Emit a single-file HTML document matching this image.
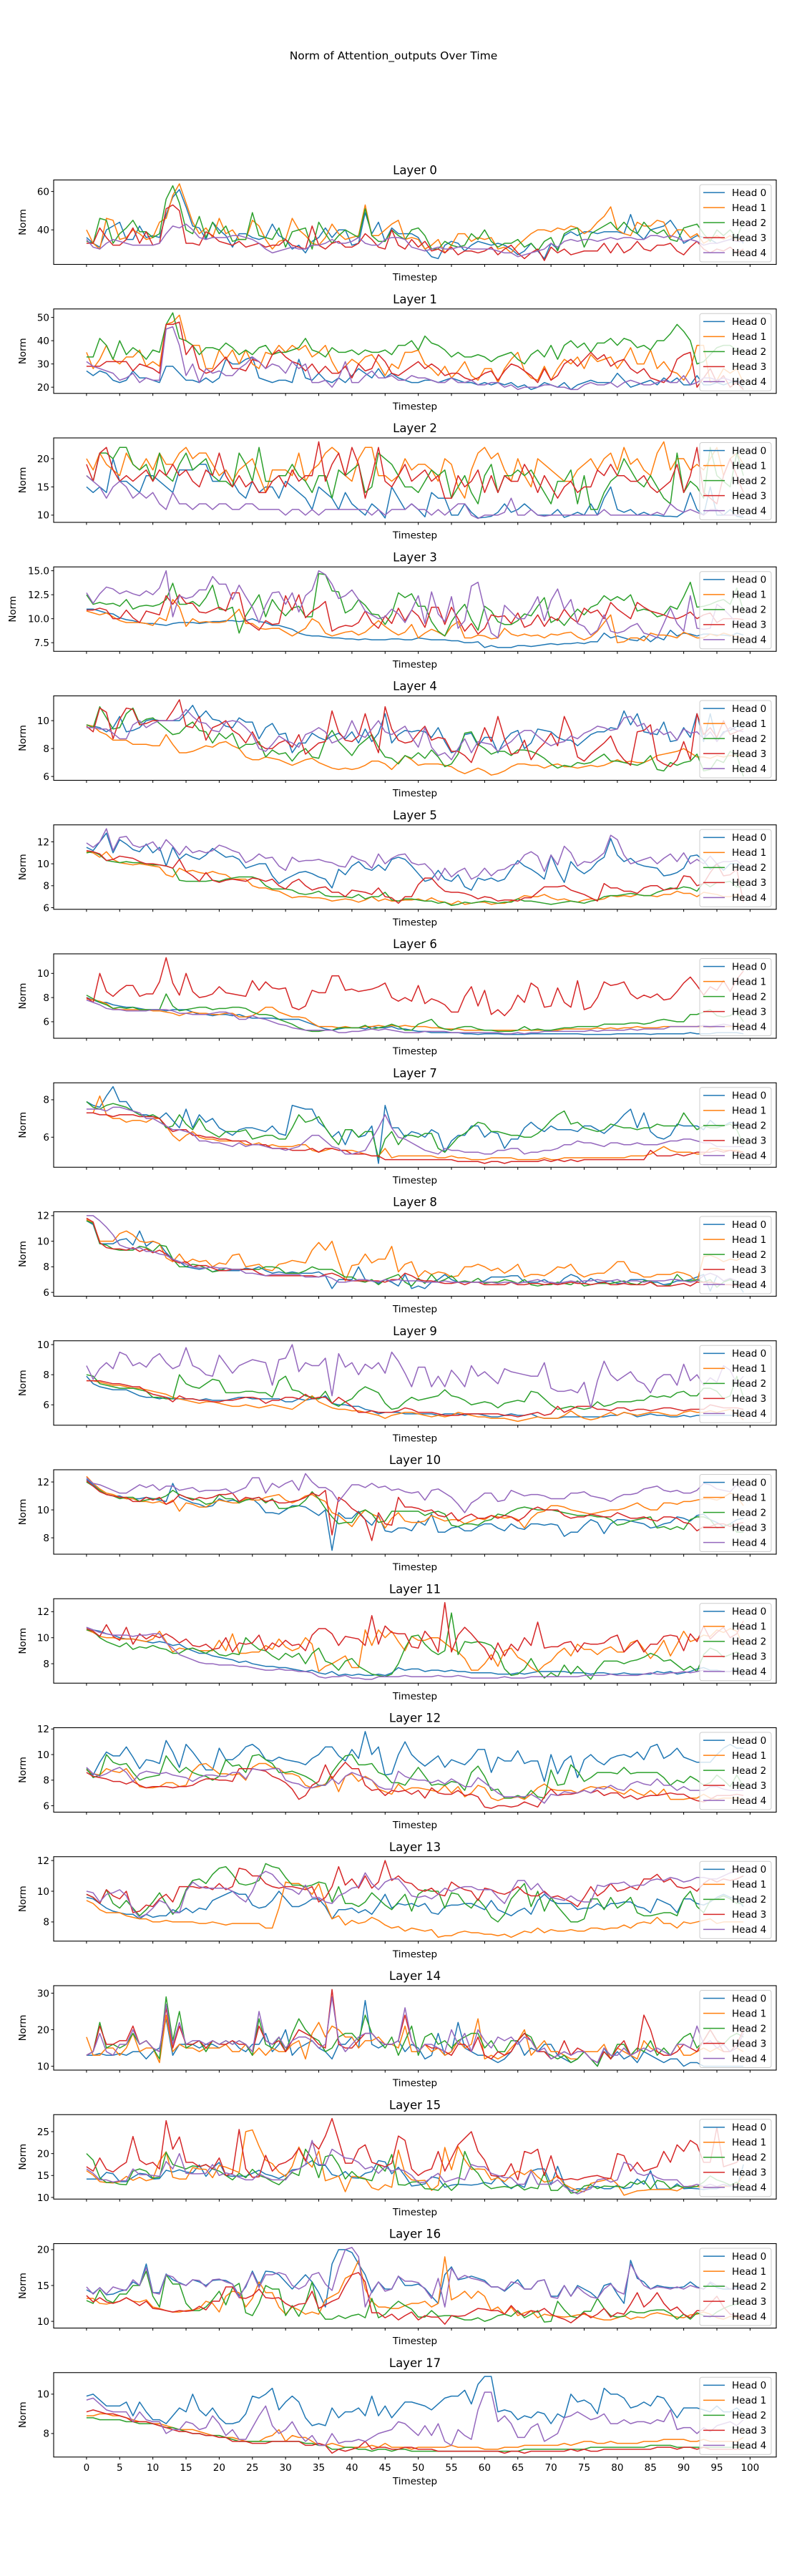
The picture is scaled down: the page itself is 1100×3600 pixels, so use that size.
<!DOCTYPE html>
<html><head><meta charset="utf-8"><title>Norm of Attention_outputs Over Time</title>
<style>
html,body{margin:0;padding:0;background:#fff;}
svg{display:block;font-family:"DejaVu Sans","Liberation Sans",sans-serif;}
</style></head>
<body>
<svg id="chart" xmlns="http://www.w3.org/2000/svg" width="1100" height="3600" viewBox="0 0 1100 3600">
<rect x="0" y="0" width="1100" height="3600" fill="#fff"/>
<text x="550" y="83" text-anchor="middle" font-size="15.5" fill="#000">Norm of Attention_outputs Over Time</text>
</svg>
<script>
const headNames = ["Head 0","Head 1","Head 2","Head 3","Head 4"];
const xTickValues = [0,5,10,15,20,25,30,35,40,45,50,55,60,65,70,75,80,85,90,95,100];
const xTickLabels = ["0","5","10","15","20","25","30","35","40","45","50","55","60","65","70","75","80","85","90","95","100"];
const yTickValues = [[40,60],[20,30,40,50],[10,15,20],[7.5,10,12.5,15],[6,8,10],[6,8,10,12],[6,8,10],[6,8],[6,8,10,12],[6,8,10],[8,10,12],[8,10,12],[6,8,10,12],[8,10,12],[10,20,30],[10,15,20,25],[10,15,20],[8,10]];
const yTickLabels = [["40","60"],["20","30","40","50"],["10","15","20"],["7.5","10.0","12.5","15.0"],["6","8","10"],["6","8","10","12"],["6","8","10"],["6","8"],["6","8","10","12"],["6","8","10"],["8","10","12"],["8","10","12"],["6","8","10","12"],["8","10","12"],["10","20","30"],["10","15","20","25"],["10","15","20"],["8","10"]];

const l0h0=[36,33,31,40,42,44,35,35,42,36,37,36,48,57,61,52,42,41,35,44,40,37,31,38,38,36,35,36,43,37,35,30,32,28,34,36,41,36,40,40,32,33,49,38,44,34,41,38,38,38,36,30,26,25,32,34,33,29,32,34,33,32,33,32,30,27,29,33,29,25,33,30,37,39,37,39,39,38,39,39,39,38,48,38,35,40,41,42,45,40,33,35,37,36,35,33,34,35,37,33];
const l0h1=[40,33,30,46,45,35,36,40,38,35,36,44,46,58,64,54,44,38,41,36,46,38,40,35,35,45,42,35,30,34,35,46,40,37,33,32,36,43,38,35,36,37,53,37,37,40,43,45,35,36,35,30,32,35,28,32,38,38,34,36,35,36,30,31,28,32,35,38,40,40,39,41,40,42,41,38,40,44,47,52,40,38,37,44,42,42,45,44,36,40,40,36,38,33,35,37,35,37,34,37];
const l0h2=[34,33,46,45,33,38,41,45,39,39,36,38,56,63,54,40,38,47,36,44,38,42,34,35,35,49,37,36,35,41,31,39,40,41,30,44,38,33,37,40,38,36,51,37,34,34,40,37,35,40,41,37,30,30,34,32,31,32,38,35,40,34,31,33,33,35,31,33,29,34,36,29,38,40,41,31,38,40,42,44,40,44,40,38,44,40,38,40,35,34,41,42,43,38,34,40,37,40,36,44];
const l0h3=[33,33,41,36,32,32,35,41,33,39,32,33,51,53,50,33,33,32,39,37,34,33,32,34,31,32,33,31,32,32,35,32,31,30,42,32,30,33,34,31,31,33,38,35,31,30,40,32,30,35,31,34,29,30,28,31,27,29,29,28,29,31,27,30,32,28,25,28,30,24,31,28,30,27,28,29,29,29,33,28,33,28,30,34,30,29,32,32,33,29,27,31,34,30,28,30,29,31,28,30];
const l0h4=[35,31,30,33,35,34,33,32,32,32,32,33,38,42,41,43,40,36,35,36,36,36,37,37,36,35,33,30,28,29,30,31,30,30,32,32,33,35,33,33,34,36,33,32,32,35,36,36,35,31,30,29,30,31,30,30,31,31,30,30,30,30,29,28,28,26,27,28,29,30,33,31,34,35,34,35,35,34,35,36,35,36,36,35,35,37,37,36,37,36,34,35,34,32,33,33,34,35,34,34];

const l1h0=[27,25,27,26,23,22,23,27,24,24,23,22,29,29,26,23,23,22,24,22,24,32,30,30,32,33,24,23,22,23,23,22,32,24,23,26,23,22,24,22,25,28,26,24,28,24,26,24,23,22,22,23,23,22,23,24,23,22,22,21,22,21,22,21,22,20,21,19,20,22,21,20,22,19,21,22,23,22,22,22,26,23,20,21,22,23,21,24,22,24,21,21,25,21,21,22,21,22,23,20];
const l1h1=[35,28,32,38,32,30,33,33,36,29,31,29,47,48,51,40,38,38,28,28,36,32,36,30,36,30,28,35,34,38,35,38,36,38,33,35,38,31,26,29,32,30,33,34,30,25,30,28,35,35,36,30,28,25,29,24,27,31,25,23,28,28,22,28,32,35,27,24,23,29,23,28,32,30,33,28,34,31,32,33,28,32,37,30,30,36,28,31,27,26,23,28,38,38,22,23,28,26,28,22];
const l1h2=[33,33,41,38,32,40,34,37,35,32,36,35,47,52,41,40,38,34,37,37,36,39,37,34,36,34,37,38,34,35,35,36,37,41,36,35,33,37,35,35,36,34,36,35,35,36,34,38,38,40,36,42,39,38,36,33,35,33,33,34,33,31,33,34,35,32,30,34,36,33,38,32,38,40,37,39,35,39,39,41,38,41,40,37,38,36,40,40,43,47,44,40,30,31,34,37,38,38,36,35];
const l1h3=[29,29,29,31,31,31,31,27,30,29,28,26,47,47,48,34,38,28,26,27,30,33,28,28,27,32,31,28,34,36,33,31,30,27,30,26,29,26,26,29,24,30,27,28,34,31,26,25,27,29,31,28,30,28,25,26,26,24,23,24,26,27,23,27,30,29,27,25,22,28,23,25,30,32,29,32,35,32,34,29,31,32,28,26,28,24,23,22,25,32,34,35,20,24,28,22,25,20,22,19];
const l1h4=[31,29,28,27,26,23,24,26,22,24,23,23,45,46,38,25,30,22,28,26,27,25,25,28,30,33,31,28,30,29,26,31,28,30,22,22,23,20,24,31,22,22,25,27,24,24,25,23,23,25,24,24,23,22,22,24,22,22,23,21,21,22,22,20,21,19,20,20,20,21,21,20,20,19,19,21,22,21,21,22,20,22,23,22,21,21,22,23,22,22,25,21,22,24,24,23,24,23,22,23];

const l2h0=[15,14,15,14,20,16,16,15,14,17,17,16,15,14,18,18,18,19,19,16,16,18,16,14,13,16,14,15,15,13,16,15,14,13,11,15,14,13,11,14,12,11,10,12,11,9.5,15,13,11,12,11,9.7,14,13,13,10,10,12,10.5,9.5,9.6,9.8,10.5,12,10.5,11,12,11,10,10,10,11,9.6,10,10.5,10,12,10,13,15,11,10.5,11,10,10.5,10,10,9.8,9.8,9.7,10.5,14,11,10,15,10,10,11,9.8,9.6];
const l2h1=[20,18,21,19,18,17,21,19,18,20,18,21,19,19,21,22,20,21,21,19,17,18,16,18,19,20,17,14,18,18,18,17,21,16,18,19,21,22,21,17,16,20,22,22,17,17,16,17,20,18,19,19,18,16,20,19,15,13,18,21,22,20,21,18,16,20,17,15,20,19,18,17,16,16,18,19,20,18,20,21,18,22,19,20,18,17,21,23,18,20,20,18,19,18,20,22,17,20,21,19];
const l2h2=[17,16,21,21,20,22,22,19,18,19,16,21,17,16,19,21,18,19,20,17,16,16,15,21,19,16,22,16,16,17,17,19,17,16,14,17,17,13,18,17,18,19,14,15,21,20,19,17,15,15,14,16,18,17,18,13,15,17,14,12,17,19,14,17,17,18,17,18,16,14,12,16,16,18,12,17,11,11,14,16,17,20,18,16,15,17,15,13,12,21,14,16,15,13,22,17,16,15,21,17];
const l2h3=[19,16,21,22,18,16,17,16,17,18,16,18,17,19,17,18,16,15,18,17,21,17,15,17,15,16,14,14,16,17,15,18,16,17,17,23,16,19,21,17,22,19,13,17,22,16,15,17,19,16,17,18,16,17,13,13,17,15,16,18,14,17,14,17,16,16,19,17,14,17,15,13,15,16,14,15,15,18,17,19,17,17,16,16,17,15,14,15,16,19,14,17,22,14,13,12,17,20,17,14];
const l2h4=[17,16,15,13,15,16,15,13,14,13,14,12,11,14,12,12,11,12,12,11,12,12,11,11,12,12,11,11,11,11,10,11,11,10,11,10,11,11,11,11,11,11,11,10,11,10,11,11,11,12,11,11,10,11,10,11,12,12,10,9.4,10,10,10,10.5,13,10,10,11,10,9.8,10,10,10,10,10,10,10,10,11,10,10,10,10,10,10,10,10.5,10,12,11,10.5,11,10.5,10,11,11,10,10,10,10];

const l3h0=[11,11,10.8,10.6,10.5,10.1,9.9,9.8,9.6,9.5,9.5,9.4,9.3,9.5,9.6,9.6,9.6,9.5,9.6,9.7,9.7,9.8,9.8,9.7,9.8,10.0,9.7,9.6,9.3,9.3,9.1,8.9,8.5,8.3,8.2,8.2,8.1,8.0,8.0,7.9,7.9,7.8,7.9,7.8,7.8,7.8,7.9,7.9,7.8,7.8,8.0,7.9,7.8,7.8,7.8,7.7,7.7,7.5,7.5,7.6,7.0,7.2,7.0,7.0,7.0,7.2,7.2,7.1,7.2,7.3,7.4,7.3,7.4,7.4,7.5,7.4,7.6,7.6,8.5,8.0,8.2,8.0,7.8,7.7,8.2,7.6,8.1,7.8,8.8,8.2,8.5,8.4,8.2,8.4,8.4,8.3,8.3,8.2,8.5,8.3];
const l3h1=[10.8,10.6,10.4,10.6,10.2,9.8,9.6,9.6,9.6,9.5,9.3,10.1,9.8,12.0,11.2,9.2,10.0,9.6,9.7,9.6,9.6,9.7,10.3,11.0,9.5,9.5,9.0,8.9,9.0,9.0,8.6,8.2,8.6,9.0,10.0,9.6,8.5,8.2,8.4,8.6,8.7,8.3,8.6,9.2,9.8,9.2,8.7,8.3,8.6,9.4,8.0,8.5,8.9,8.6,8.2,9.2,9.7,8.0,8.0,8.3,8.2,7.9,8.0,9.0,8.4,8.2,8.4,8.2,8.3,8.0,8.4,8.3,8.5,8.6,8.1,7.8,8.1,8.7,9.6,10.4,7.5,7.6,8.0,8.0,7.7,8.5,8.3,8.3,8.2,8.0,8.6,8.3,8.0,8.0,8.4,8.2,8.5,8.3,8.1,8.0];
const l3h2=[12.5,11.5,11.7,11.5,11.6,11.3,12.0,11.0,11.3,11.4,11.3,11.5,12.0,13.7,11.5,11.5,11.8,11.3,12.2,13.5,11.0,10.9,11.2,8.5,10.3,11.4,12.5,10.2,12.0,11.0,10.3,11.1,11.3,10.2,10.2,14.7,14.6,12.9,12.8,10.6,11.0,12.0,11.4,10.5,10.4,9.4,10.5,12.7,12.2,12.6,11.3,11.3,9.7,8.7,8.2,9.7,10.7,11.5,9.9,8.8,11.3,10.8,9.7,9.4,9.4,9.8,10.5,10.3,11.3,12.2,9.6,10.0,9.3,10.2,11.0,10.4,11.2,11.5,12.4,11.9,12.3,11.9,12.5,10.8,11.0,10.8,10.2,10.4,11.3,11.0,12.3,13.8,11.2,11.3,11.5,11.8,12.0,11.5,13.2,10.8];
const l3h3=[10.9,10.9,11.1,10.9,10.0,10.0,10.9,10.1,9.6,10.8,10.6,10.4,12.4,11.5,12.5,11.6,11.6,10.7,10.6,10.9,11.2,10.8,12.7,12.7,9.8,9.3,8.8,9.8,9.4,9.5,12.4,10.9,12.5,10.1,10.8,11.2,11.8,8.7,9.1,9.3,9.2,9.6,10.8,9.6,9.0,10.3,9.5,11.1,9.8,10.9,10.3,9.1,11.2,11.2,9.4,11.2,10.0,8.7,9.5,8.4,9.0,10.4,10.2,10.3,9.5,10.6,9.1,9.4,10.4,9.2,10.2,9.8,11.0,10.1,9.6,11.1,10.6,10.9,10.0,11.7,11.0,10.5,10.0,11.7,11.2,10.8,10.6,10.4,10.1,10.0,10.3,10.7,10.0,10.4,10.6,9.6,10.0,10.0,10.0,9.9];
const l3h4=[12.7,11.6,12.6,13.3,13.1,12.6,12.9,12.6,12.4,12.9,12.5,13.2,15.0,10.2,12.4,12.1,12.3,13.0,13.0,14.4,13.6,13.6,12.0,13.5,12.3,11.2,9.6,11.4,12.7,12.8,11.5,12.7,10.7,12.4,13.0,15.0,14.6,13.6,12.1,12.4,13.0,12.0,10.8,10.4,10.0,10.2,11.0,10.5,9.6,10.9,12.4,9.5,12.8,10.5,9.7,12.3,9.0,9.8,13.4,13.8,10.9,8.5,8.0,11.4,10.7,10.0,10.0,11.0,12.3,9.8,11.9,13.1,11.0,12.0,9.5,9.2,8.3,8.8,10.4,8.7,8.5,8.7,9.2,9.5,8.5,8.3,8.0,9.5,11.1,9.5,8.7,12.4,9.0,8.9,9.0,11.5,11.0,10.3,9.5,9.0];

const l4h0=[9.7,9.6,9.5,9.2,9.5,10.3,9.2,9.3,9.5,10.0,10.1,10.0,10.0,10.0,10.0,10.5,11.1,10.2,10.7,10.1,10.0,9.6,9.5,10.2,9.9,9.9,8.7,9.5,9.8,9.0,9.1,7.7,8.4,8.4,9.1,8.8,8.6,8.9,9.1,8.7,9.2,8.4,9.4,8.5,9.1,10.5,8.4,9.0,9.3,9.2,9.3,9.2,8.8,9.5,8.5,7.7,7.9,9.0,9.1,8.2,8.8,8.8,7.7,8.6,9.1,9.3,8.0,8.4,9.4,9.3,9.2,8.8,8.6,8.6,8.2,8.6,9.0,9.2,9.2,9.5,9.4,10.7,9.7,10.5,9.2,9.1,9.0,9.9,8.5,8.6,9.5,8.8,10.5,8.5,10.5,8.5,9.2,9.3,9.6,9.5];
const l4h1=[9.7,9.6,9.2,9.0,8.6,8.6,8.6,8.3,8.3,8.3,8.2,8.2,9.0,8.3,7.7,7.7,7.8,8.0,8.2,8.1,8.4,8.5,8.2,8.0,7.4,7.2,7.2,7.4,7.3,7.2,7.0,6.8,7.0,7.2,7.3,7.0,6.8,6.6,6.5,6.6,6.5,6.6,6.8,7.1,7.1,6.9,6.5,7.0,7.5,7.2,6.8,6.9,6.9,6.9,6.8,6.7,6.4,6.2,6.4,6.6,6.4,6.1,6.2,6.4,6.7,6.9,6.9,6.8,6.8,6.6,6.8,6.9,6.7,6.7,6.6,6.7,6.8,6.7,6.8,7.0,7.2,7.0,7.1,7.0,7.0,7.2,7.5,7.6,7.7,7.8,8.0,7.7,7.4,7.4,7.3,7.5,7.4,7.5,7.5,7.5];
const l4h2=[9.7,9.5,11.0,10.2,9.4,9.5,10.5,10.9,9.8,10.1,10.2,9.8,9.4,9.0,9.1,9.6,9.9,9.3,9.2,8.4,9.1,8.7,9.1,8.0,8.3,8.3,8.5,7.4,7.9,7.6,7.7,7.1,7.7,8.0,7.4,7.3,8.6,9.3,8.5,8.0,7.5,8.2,8.6,9.0,8.1,7.4,7.3,6.9,7.5,7.3,7.7,7.3,7.9,7.4,6.7,6.9,7.6,9.1,9.2,8.3,8.0,7.6,7.8,7.8,7.5,7.9,7.9,7.8,7.6,7.3,6.9,6.6,6.8,6.7,7.0,6.9,7.0,7.3,7.6,7.1,7.1,7.0,6.9,6.8,7.0,7.5,6.5,6.4,7.0,6.8,7.0,7.1,7.6,6.4,6.5,7.2,7.0,7.8,7.5,6.0];
const l4h3=[9.6,9.2,10.9,10.6,8.7,10.1,10.9,10.8,9.7,9.8,10.0,10.0,10.0,10.7,11.5,9.6,9.5,10.3,8.6,9.5,9.7,10.0,9.3,9.0,8.4,9.2,8.3,8.0,8.0,8.4,8.6,8.1,9.0,7.6,8.0,8.4,8.5,10.7,9.2,8.6,8.5,8.9,10.5,8.9,7.7,11.0,9.4,8.6,8.4,8.5,9.1,9.6,8.6,8.8,8.7,7.8,7.8,7.5,7.0,8.2,9.5,8.5,10.3,8.7,7.6,7.7,8.6,7.2,7.9,8.4,9.1,8.2,10.3,9.2,7.4,7.1,7.6,8.0,8.4,8.9,7.8,7.2,6.8,9.2,9.3,9.7,7.2,6.9,6.7,7.2,8.5,7.2,10.5,9.0,9.5,8.8,10.0,9.0,9.2,9.4];
const l4h4=[9.5,9.5,9.4,9.4,9.1,8.7,8.7,9.7,10.0,9.5,9.8,10.0,10.0,10.0,10.2,10.8,10.3,9.9,9.8,9.3,9.2,9.9,10.0,9.9,9.5,9.0,8.0,7.8,8.3,8.9,8.6,8.4,8.1,9.0,9.2,9.5,9.2,8.4,8.6,8.9,10.0,9.0,8.8,9.4,10.0,9.2,9.0,9.3,9.6,8.8,8.1,9.5,8.1,7.5,7.7,7.2,8.0,8.7,7.7,8.5,8.4,8.3,7.8,8.2,8.5,9.0,9.3,9.3,8.9,8.5,8.2,8.4,8.5,8.9,8.7,9.1,9.3,9.6,9.5,9.3,9.4,10.2,10.3,9.6,9.8,9.0,9.4,9.0,9.2,8.6,9.4,9.1,9.2,8.7,9.2,8.5,9.1,9.5,9.3,9.2];

const l5h0=[11.5,11.2,12.0,12.8,11.0,12.2,11.8,11.3,11.1,11.8,11.0,11.5,9.8,11.5,10.4,10.9,10.6,10.4,10.8,11.4,11.0,10.6,10.7,10.4,9.6,9.8,10.0,10.0,8.9,8.2,8.6,8.9,9.2,9.3,9.1,8.8,8.6,7.8,9.5,9.0,9.8,10.2,9.6,9.4,9.9,9.4,10.4,10.6,10.4,9.8,9.1,8.4,8.6,9.4,8.6,8.4,9.0,7.9,7.6,8.7,8.5,8.7,8.4,8.6,9.5,10.3,9.8,9.5,9.1,8.6,10.8,9.4,8.3,10.2,9.5,9.1,9.5,10.2,10.6,12.3,10.8,10.2,10.5,10.0,9.8,9.7,9.6,8.9,9.0,9.2,9.6,10.7,10.8,10.3,9.5,10.0,9.4,10.0,10.0,9.6];
const l5h1=[11.1,11.0,10.6,11.1,10.4,10.1,10.0,9.9,10.0,9.9,9.8,9.7,9.0,8.8,9.6,9.3,9.4,9.2,9.1,9.3,9.1,9.0,8.6,8.6,8.6,8.0,7.8,7.8,7.6,7.5,7.2,6.9,7.0,7.0,6.9,6.9,6.8,6.6,6.7,6.8,6.7,6.5,6.7,7.0,6.6,6.8,6.6,6.6,6.7,6.7,6.8,6.6,6.9,6.6,6.5,6.3,6.6,6.3,6.4,6.5,6.5,6.3,6.4,6.4,6.6,6.8,7.1,7.0,7.0,7.2,6.9,6.7,6.8,6.6,6.5,6.7,6.8,6.7,6.8,7.1,7.0,7.1,7.0,7.2,7.1,7.1,7.0,7.2,7.2,7.5,7.3,7.3,7.0,7.4,7.3,7.2,7.0,7.0,7.2,6.8];
const l5h2=[11.0,11.1,10.8,10.3,10.2,10.1,10.2,10.1,10.1,10.0,9.9,9.9,9.8,9.6,8.5,8.4,8.4,8.4,8.4,8.5,8.4,8.6,8.7,8.8,8.8,8.8,8.6,8.0,7.7,7.7,7.7,7.6,7.3,7.2,7.3,7.5,7.1,7.0,7.0,7.0,6.9,7.2,6.8,7.0,7.0,7.4,6.7,6.6,6.8,6.8,6.7,6.6,6.6,6.4,6.5,6.2,6.3,6.5,6.4,6.5,6.6,6.5,6.4,6.5,6.5,6.8,6.6,6.6,6.5,6.4,6.3,6.4,6.5,6.6,6.5,6.4,6.6,6.7,7.0,7.1,7.1,7.2,7.3,7.2,7.1,7.1,7.4,7.6,7.8,7.7,7.9,7.8,7.5,8.3,7.9,8.3,8.3,8.4,7.9,7.9];
const l5h3=[11.2,11.1,10.9,10.3,10.4,10.7,10.6,10.5,10.2,10.0,10.0,9.9,9.8,9.6,10.4,9.3,8.9,8.4,9.2,8.5,8.3,8.5,8.6,8.5,8.4,8.7,8.6,8.4,8.6,8.0,7.7,8.3,8.6,8.0,7.6,7.8,7.9,7.4,7.4,7.0,7.6,7.5,7.4,7.2,7.8,7.0,6.9,6.4,7.0,7.0,8.1,8.7,8.7,8.0,7.5,7.4,7.4,7.3,7.1,6.8,7.0,6.9,6.6,6.7,6.7,6.6,6.9,6.9,7.4,7.9,7.9,7.9,8.0,7.6,7.4,7.2,6.9,6.6,8.2,7.8,7.8,7.5,7.5,7.3,7.8,8.0,8.0,7.6,7.7,7.8,8.9,8.8,8.0,8.2,9.2,10.0,8.9,9.0,9.5,6.5];
const l5h4=[11.9,11.5,12.0,13.2,11.2,12.4,12.5,11.7,11.5,11.7,12.0,11.2,12.2,11.6,10.8,11.6,11.0,11.2,11.0,11.2,11.7,11.5,11.2,11.0,10.1,10.4,10.9,10.5,10.6,9.8,9.4,10.6,10.2,10.3,10.3,10.4,10.2,10.1,9.8,9.7,10.7,10.4,10.2,9.6,10.9,10.0,10.5,10.8,10.9,10.1,9.9,10.0,9.4,8.5,9.6,8.8,9.3,9.6,8.6,8.9,9.6,8.9,9.4,9.5,9.9,10.0,10.8,11.1,10.7,9.3,10.8,9.9,11.6,11.0,9.8,10.2,10.1,10.5,11.0,12.6,12.2,10.8,10.0,10.2,10.4,10.6,10.0,10.5,10.9,10.2,11.0,10.0,10.4,10.0,10.7,10.0,10.2,10.2,10.3,9.8];

const l6h0=[8.0,7.8,7.6,7.6,7.4,7.3,7.2,7.2,7.1,7.0,7.0,7.0,6.9,7.0,7.0,7.0,6.8,6.6,6.6,6.5,6.6,6.6,6.5,6.6,6.4,6.3,6.3,6.3,6.3,6.2,6.2,6.2,6.2,6.0,5.8,5.6,5.4,5.3,5.4,5.5,5.5,5.5,5.4,5.6,5.5,5.5,5.6,5.4,5.4,5.3,5.2,5.2,5.1,5.1,5.1,5.1,5.1,5.0,5.0,4.95,5.0,5.0,5.0,4.95,4.95,4.95,4.95,5.0,5.0,5.0,5.0,5.0,5.0,5.0,5.0,4.95,4.95,4.95,4.95,4.95,5.0,5.0,5.0,5.0,5.0,4.95,5.0,5.0,5.0,5.0,5.0,5.1,5.0,5.0,5.0,5.1,5.1,5.1,5.1,5.0];
const l6h1=[7.9,7.8,7.7,7.5,7.1,7.0,7.0,7.0,7.0,7.0,6.9,6.9,6.8,6.7,6.5,6.7,6.8,6.7,6.7,6.6,6.6,6.7,6.7,6.4,6.4,6.5,6.8,7.2,7.2,6.8,6.6,6.4,6.4,6.3,5.9,5.6,5.6,5.6,5.5,5.6,5.5,5.5,5.6,5.6,5.7,5.6,5.7,5.6,5.7,5.6,5.6,5.6,5.5,5.5,5.4,5.4,5.4,5.3,5.3,5.3,5.3,5.3,5.3,5.3,5.3,5.3,5.3,5.3,5.3,5.3,5.3,5.3,5.4,5.4,5.4,5.4,5.4,5.5,5.4,5.5,5.4,5.5,5.5,5.6,5.5,5.5,5.5,5.6,5.6,5.6,5.6,5.6,5.6,5.6,5.5,5.6,5.6,5.6,5.6,5.6];
const l6h2=[8.2,7.9,7.6,7.4,7.1,7.2,7.1,7.2,7.0,7.0,7.0,7.0,8.3,7.3,6.9,7.0,7.1,7.2,7.2,7.0,7.1,7.1,7.2,7.2,7.1,6.8,6.6,6.6,6.5,6.2,6.0,5.8,5.5,5.3,5.2,5.2,5.3,5.3,5.5,5.5,5.5,5.5,5.7,5.4,5.5,5.6,5.8,5.6,5.3,5.3,5.8,6.0,6.2,5.6,5.4,5.3,5.5,5.6,5.6,5.4,5.3,5.3,5.2,5.2,5.2,5.3,5.6,5.3,5.4,5.3,5.3,5.4,5.5,5.5,5.6,5.6,5.6,5.6,5.8,5.8,5.8,5.8,5.9,5.9,5.8,5.9,6.1,6.2,6.1,6.0,6.0,6.6,6.6,6.8,7.0,6.5,6.4,6.5,6.9,6.0];
const l6h3=[8.0,7.6,10.0,8.5,8.1,8.6,9.0,9.0,8.1,8.3,8.3,9.3,11.3,9.2,8.2,10.0,8.5,8.0,8.1,8.3,8.9,8.4,8.3,8.2,8.1,9.4,8.6,9.3,8.8,8.7,8.8,7.2,7.0,7.3,8.6,8.4,8.4,9.8,9.8,8.6,8.7,8.5,8.6,8.7,8.9,9.2,8.0,7.7,8.0,7.7,9.0,7.5,7.9,7.7,7.4,6.8,6.8,8.1,8.9,7.3,8.6,6.6,7.0,6.5,7.1,8.2,7.6,9.2,8.8,7.2,7.3,8.8,7.6,7.2,9.4,7.0,7.2,8.0,9.3,9.0,9.1,9.3,8.3,7.9,8.2,8.0,8.3,7.8,7.9,8.5,9.2,9.7,9.0,8.2,8.9,8.6,9.4,8.5,9.5,10.2];
const l6h4=[7.8,7.6,7.4,7.1,7.0,7.0,6.9,6.9,6.9,6.9,7.0,7.0,7.0,6.9,6.7,6.7,6.6,6.6,6.6,6.7,6.8,6.8,6.6,6.2,6.2,6.5,6.3,6.2,6.0,5.8,5.7,5.5,5.4,5.3,5.3,5.3,5.3,5.3,5.1,5.1,5.2,5.2,5.3,5.4,5.3,5.4,5.3,5.2,5.1,5.1,5.1,5.2,5.2,5.2,5.2,5.1,5.1,5.1,5.1,5.1,5.1,5.1,5.1,5.0,5.0,5.1,5.0,5.1,5.1,5.2,5.2,5.2,5.2,5.2,5.2,5.2,5.3,5.2,5.3,5.3,5.3,5.3,5.4,5.3,5.4,5.4,5.4,5.4,5.6,5.6,5.6,5.6,5.6,5.7,5.6,5.7,5.8,5.7,5.6,5.2];

const l7h0=[7.9,7.7,7.6,8.2,8.7,7.9,7.9,7.4,7.2,7.2,7.1,7.0,7.3,6.9,6.5,7.5,6.5,7.2,6.8,7.0,6.5,6.3,6.1,6.4,6.5,6.5,6.4,6.3,6.6,6.2,6.1,7.7,7.6,7.5,7.5,6.8,6.5,6.0,6.3,5.6,6.4,6.0,6.1,6.6,4.6,7.7,6.5,6.5,6.0,6.3,6.2,6.0,6.4,6.2,5.2,5.8,6.1,6.1,6.6,6.6,6.0,6.3,6.2,5.4,5.9,5.9,6.5,6.8,6.5,6.3,6.6,6.4,6.4,6.4,6.3,6.6,6.6,6.4,6.2,6.5,6.8,7.2,7.5,6.5,7.3,6.3,6.0,5.9,6.1,6.7,6.6,6.6,6.6,6.4,6.9,6.6,6.6,6.8,6.7,6.7];
const l7h1=[7.3,7.3,8.2,7.2,7.0,7.0,6.8,6.9,6.9,6.8,7.0,7.0,6.6,6.1,5.8,6.1,6.3,6.0,5.9,5.9,5.8,5.8,5.8,5.8,5.6,5.6,5.7,5.5,5.6,5.5,5.5,5.5,5.6,5.6,5.3,5.2,5.3,5.4,5.3,5.3,5.3,5.2,5.1,5.0,5.0,5.4,4.9,5.0,5.0,5.0,5.0,5.0,5.0,4.9,4.9,5.0,4.9,4.9,4.8,4.8,4.8,4.9,4.9,4.9,4.9,4.8,4.8,4.8,4.8,4.9,4.8,4.8,4.9,4.9,4.9,4.9,4.9,4.9,4.9,4.9,4.9,4.9,5.0,5.0,5.0,5.1,5.3,5.5,5.3,5.2,5.2,5.2,5.1,5.1,5.4,5.4,5.3,5.3,5.3,5.2];
const l7h2=[7.9,7.6,7.5,7.7,7.8,7.7,7.6,7.4,7.2,7.1,7.2,7.0,6.5,6.6,7.2,6.7,6.4,7.0,6.4,6.2,6.0,6.3,6.3,6.3,6.4,5.9,6.0,6.1,6.1,5.9,5.9,6.5,7.2,6.8,6.9,7.1,6.5,6.0,5.6,6.4,6.4,6.0,6.3,6.3,4.9,5.9,6.3,5.6,6.1,6.1,6.0,6.2,6.2,5.4,5.2,5.6,6.0,6.2,6.5,6.8,6.7,6.3,6.3,6.2,6.1,6.1,6.0,6.0,6.2,6.5,6.9,7.2,7.4,6.7,6.8,6.5,6.4,6.3,6.4,6.7,6.6,6.5,6.5,6.4,6.5,6.5,6.7,6.6,6.6,6.6,7.3,6.8,6.4,6.6,6.5,6.5,6.6,6.7,6.4,5.6];
const l7h3=[7.3,7.3,7.2,7.2,7.1,7.2,7.2,7.2,7.1,7.1,7.1,7.0,6.6,6.3,6.4,6.4,6.1,6.1,6.0,6.0,5.9,5.9,5.8,5.8,5.8,5.6,5.6,5.6,5.4,5.4,5.4,5.3,5.3,5.3,5.4,5.2,5.4,5.4,5.3,5.3,5.1,5.1,5.1,5.0,5.0,4.8,4.8,4.8,4.8,4.8,4.8,4.8,4.8,4.8,4.8,4.8,4.7,4.7,4.7,4.7,4.6,4.7,4.7,4.6,4.7,4.7,4.7,4.7,4.7,4.8,4.7,4.8,4.7,4.8,4.7,4.8,4.8,4.8,4.8,4.8,4.8,4.8,4.8,4.8,4.8,5.3,5.0,5.0,5.0,5.1,5.0,5.1,5.2,5.2,5.2,5.3,5.2,5.3,5.2,5.2];
const l7h4=[7.5,7.5,7.5,7.4,7.6,7.6,7.5,7.4,7.3,7.0,7.0,6.8,6.6,6.4,6.4,6.3,6.2,5.8,5.8,5.7,5.7,5.6,5.5,5.7,5.5,5.6,5.6,5.5,5.4,5.4,5.3,5.4,5.5,5.8,6.1,6.1,5.8,5.5,5.4,5.1,5.1,5.2,5.3,5.9,6.5,7.2,6.5,6.0,5.9,5.7,5.5,5.3,5.2,5.1,5.4,5.3,5.3,5.2,5.2,5.2,5.1,5.1,5.3,5.3,5.4,5.4,5.1,5.2,5.2,5.3,5.3,5.4,5.6,5.6,5.8,5.7,5.7,5.6,5.5,5.7,5.7,5.6,5.6,5.7,5.6,5.6,5.6,5.7,5.8,5.8,5.9,5.9,5.8,5.7,5.7,5.5,5.5,5.5,5.5,5.5];

const l8h0=[11.6,11.3,9.8,9.8,9.8,10.1,10.2,9.7,10.8,9.6,10.0,9.8,9.1,8.6,8.4,8.0,7.9,7.8,7.9,7.6,7.8,7.7,7.7,7.7,7.9,7.8,8.0,7.7,7.5,7.6,7.5,7.6,7.5,7.5,7.5,7.6,7.3,6.3,7.0,7.0,7.0,8.0,7.0,6.9,6.7,7.0,6.8,6.5,7.4,6.3,6.5,6.3,6.8,7.0,7.4,7.0,6.8,6.8,6.8,6.8,6.9,7.2,7.2,7.2,7.3,7.3,6.8,6.8,6.8,7.0,6.7,6.6,7.1,7.4,7.2,6.7,7.1,6.8,6.8,6.9,6.7,6.7,7.0,7.0,7.0,6.8,6.8,6.6,6.7,6.9,6.9,7.0,7.2,7.4,6.1,7.3,6.9,7.0,6.8,6.0];
const l8h1=[11.7,11.4,10.0,10.0,10.0,10.6,10.8,10.5,10.0,9.9,10.0,9.8,8.7,8.4,9.0,8.3,8.6,8.4,8.5,8.0,8.3,8.2,8.9,9.0,8.0,8.1,8.2,7.8,7.7,8.2,8.3,8.5,8.4,8.3,9.3,9.9,9.3,10.0,8.4,6.9,8.1,8.2,9.0,8.3,8.6,8.6,9.6,7.6,8.2,8.4,7.2,7.7,7.4,7.6,7.5,7.2,7.3,8.0,8.0,8.2,8.0,7.7,7.9,7.5,7.8,8.2,7.2,7.4,7.4,7.3,7.6,8.0,7.9,8.2,7.5,7.2,7.4,7.5,7.5,7.9,8.4,8.4,7.6,7.5,7.2,7.2,7.4,7.4,7.4,7.6,7.5,7.3,6.8,8.8,8.9,8.7,8.4,8.6,8.5,8.8];
const l8h2=[11.6,11.4,9.8,9.7,9.4,9.3,9.3,9.3,9.6,9.5,9.2,9.7,9.6,8.6,8.0,8.0,8.2,8.1,7.9,7.6,7.7,7.9,7.8,7.8,7.8,7.8,7.8,8.0,8.0,7.9,7.5,7.5,7.5,7.7,8.0,7.8,7.8,7.8,7.5,7.2,7.2,6.9,6.8,7.0,6.6,7.0,7.2,7.4,6.8,6.5,7.1,6.7,7.4,6.8,7.0,7.3,6.8,6.9,6.8,7.1,6.7,6.8,6.8,7.0,6.9,6.7,7.0,6.6,6.5,6.6,6.6,6.8,6.7,6.6,6.9,6.5,6.6,6.7,6.7,6.7,6.8,6.9,6.7,6.6,6.9,6.9,6.5,6.5,6.6,7.4,6.9,6.9,7.0,6.8,7.0,6.4,6.8,7.0,6.8,6.7];
const l8h3=[11.8,11.5,9.9,9.5,9.4,9.4,9.3,9.5,9.2,9.4,9.1,9.3,9.0,8.5,8.3,8.4,8.0,8.1,8.1,7.9,7.7,7.7,7.8,7.8,7.8,7.8,7.5,7.3,7.3,7.3,7.3,7.3,7.3,7.3,7.3,7.2,7.4,7.5,7.3,7.0,6.9,6.9,6.9,6.9,6.9,6.8,7.0,7.0,7.5,7.3,7.0,6.9,6.9,6.8,6.7,6.7,6.8,6.6,6.8,6.8,6.6,6.6,6.6,6.6,6.8,6.6,6.6,6.7,6.7,6.6,6.7,6.6,6.7,6.8,6.7,6.7,6.6,6.7,6.8,6.6,6.6,6.7,6.6,6.6,6.6,6.8,6.5,6.5,6.5,6.6,6.7,6.5,6.8,6.8,6.8,6.7,6.6,6.6,6.5,6.6];
const l8h4=[12.0,12.0,11.6,11.1,10.5,9.7,9.5,9.4,9.5,9.2,9.2,9.0,8.9,8.6,8.4,8.2,8.0,7.9,7.9,8.0,7.9,7.9,7.8,7.8,7.5,7.5,7.4,7.3,7.4,7.4,7.4,7.4,7.4,7.2,7.2,7.2,7.3,7.1,6.8,6.8,6.9,7.0,7.0,6.9,6.8,7.0,6.9,7.0,6.9,6.9,6.9,6.8,6.8,6.8,6.9,6.8,6.8,6.8,6.8,6.8,6.8,6.8,6.7,6.8,6.8,6.7,6.8,6.9,7.0,6.8,6.8,6.7,6.8,6.9,6.8,6.9,6.9,7.0,6.9,6.9,7.0,6.8,6.9,6.9,6.8,6.9,6.9,6.9,7.0,7.0,6.9,6.8,6.9,7.3,7.5,7.3,6.9,7.1,6.9,6.6];

const l9h0=[7.9,7.4,7.2,7.1,7.0,7.0,7.0,6.8,6.6,6.5,6.5,6.4,6.5,6.4,6.4,6.4,6.4,6.3,6.4,6.3,6.3,6.3,6.4,6.5,6.5,6.4,6.4,6.4,6.4,6.4,6.2,6.2,6.4,6.3,6.4,6.4,6.6,6.1,6.0,6.0,5.9,5.9,5.7,5.6,5.4,5.5,5.5,5.5,5.4,5.4,5.4,5.4,5.4,5.3,5.4,5.4,5.4,5.3,5.4,5.4,5.3,5.2,5.2,5.3,5.4,5.3,5.3,5.4,5.2,5.1,5.1,5.1,5.2,5.2,5.2,5.2,5.2,5.2,5.2,5.3,5.3,5.5,5.4,5.2,5.3,5.4,5.3,5.3,5.2,5.2,5.3,5.2,5.3,5.3,5.3,5.3,5.3,5.3,5.3,5.3];
const l9h1=[7.6,7.6,7.5,7.4,7.3,7.3,7.2,7.1,7.1,7.0,6.9,6.8,6.7,6.5,6.4,6.3,6.2,6.1,6.2,6.2,6.1,6.0,5.9,5.9,6.0,5.9,5.8,5.9,6.0,5.9,5.8,5.7,6.0,6.3,6.6,6.2,6.0,5.8,5.7,5.7,5.6,5.6,5.5,5.4,5.3,5.1,5.3,5.4,5.5,5.5,5.4,5.3,5.2,5.3,5.2,5.3,5.5,5.4,5.3,5.2,5.2,5.1,5.1,5.1,5.0,4.9,5.0,5.1,5.2,5.1,5.1,5.1,5.3,5.6,5.3,5.1,5.0,5.1,5.3,5.5,5.3,5.5,5.4,5.3,5.4,5.5,5.5,5.4,5.3,5.3,5.5,5.6,5.5,5.5,5.6,5.5,5.6,5.7,5.4,5.0];
const l9h2=[8.0,7.9,7.4,7.3,7.2,7.1,7.1,7.1,7.0,6.9,6.5,6.5,6.4,6.4,8.0,7.4,7.2,7.1,7.4,7.7,7.6,6.8,6.8,6.8,6.9,6.9,6.8,6.8,6.5,7.6,7.9,7.0,6.9,6.6,6.5,6.4,6.9,6.1,5.9,6.2,6.4,6.9,7.2,7.0,6.8,6.1,5.7,5.8,6.2,6.5,6.3,6.4,6.5,6.6,7.0,6.6,6.5,6.3,6.0,6.1,6.2,6.1,5.8,6.1,6.2,6.3,6.2,6.9,6.8,6.4,6.0,5.7,5.8,5.9,5.8,5.7,5.8,6.2,5.9,6.0,6.2,6.2,6.2,6.3,6.3,6.6,6.5,6.6,6.5,6.8,6.9,6.6,6.6,7.1,7.1,6.9,6.4,6.6,7.9,6.5];
const l9h3=[7.6,7.6,7.6,7.5,7.4,7.4,7.3,7.2,7.2,6.9,6.7,6.6,6.5,6.2,6.6,6.4,6.4,6.3,6.3,6.2,6.2,6.3,6.3,6.4,6.5,6.5,6.4,6.1,6.3,6.3,6.5,6.5,6.4,6.7,6.4,6.5,6.5,6.1,6.5,6.2,5.9,5.5,5.5,5.6,5.5,5.5,5.5,5.6,5.8,5.7,5.5,5.5,5.5,5.4,5.3,5.3,5.3,5.4,5.4,5.4,5.4,5.4,5.4,5.3,5.3,5.2,5.3,5.4,5.5,5.3,5.4,5.9,5.5,5.7,5.9,5.9,5.9,5.7,5.7,5.6,5.8,5.8,5.6,5.7,5.7,5.6,5.7,5.8,5.8,5.7,5.6,5.7,5.7,5.7,6.0,5.9,5.8,5.8,5.8,5.7];
const l9h4=[8.6,7.7,8.4,8.8,8.4,9.5,9.3,8.6,8.8,8.5,9.1,9.4,8.8,8.4,8.6,9.8,8.6,8.4,8.0,7.9,9.3,8.7,8.1,8.6,8.8,9.0,8.9,8.8,7.3,9.0,9.1,10.0,8.2,8.8,8.6,8.6,9.1,6.6,9.4,8.5,8.8,8.0,8.7,8.4,8.8,8.1,9.5,8.9,8.1,7.2,8.5,8.5,7.2,7.9,7.2,8.3,7.8,7.2,8.6,7.9,8.2,7.8,7.4,8.4,8.2,8.1,8.0,7.9,7.9,8.8,7.1,6.9,6.9,7.0,6.8,7.5,5.8,7.6,8.9,8.0,7.6,7.9,8.2,7.6,7.4,6.8,7.7,8.0,8.0,7.3,8.7,7.6,8.0,7.3,7.8,7.5,8.6,8.3,7.4,7.9];

const l10h0=[12.2,11.8,11.4,11.1,11.0,11.0,10.8,10.8,10.8,10.9,10.8,10.7,10.6,11.9,10.9,10.7,10.5,10.4,10.2,10.3,10.8,10.6,10.7,10.6,10.7,10.8,10.4,9.8,9.8,9.7,10.0,10.3,10.3,10.2,9.9,9.6,10.0,7.1,9.8,9.4,9.4,9.9,9.3,8.9,9.6,8.5,8.4,8.7,8.7,8.5,9.2,8.9,9.7,8.4,8.4,8.7,8.8,8.5,8.5,8.8,9.0,9.0,8.7,8.5,9.0,8.7,8.6,9.0,9.0,8.9,9.0,8.9,8.1,8.4,8.4,8.9,9.3,9.1,8.3,9.0,9.3,9.3,9.2,9.1,9.0,8.7,8.8,9.0,9.1,9.5,9.4,9.2,9.6,9.7,9.3,9.1,8.8,9.0,9.3,9.4];
const l10h1=[12.4,11.9,11.5,11.2,11.1,10.9,10.8,10.8,10.6,10.6,10.5,10.6,10.4,10.7,9.9,10.5,10.4,10.2,10.2,10.5,10.7,10.6,10.5,10.5,10.8,10.7,10.7,10.9,11.0,11.1,10.7,10.5,10.7,11.0,11.1,10.8,10.6,9.8,9.6,9.2,8.8,9.5,10.0,9.7,9.5,8.7,9.4,9.8,9.2,9.1,9.1,9.2,9.6,9.4,9.2,9.3,9.3,9.0,9.2,9.4,9.3,9.6,9.5,9.4,9.5,9.3,8.7,9.4,9.8,9.9,10.3,10.3,10.2,10.0,9.9,9.8,9.7,9.8,9.9,10.0,10.0,10.1,10.3,10.5,10.2,10.0,10.0,10.5,10.5,10.4,10.6,10.6,10.7,10.8,10.8,10.7,10.9,11.2,11.0,10.3];
const l10h2=[12.0,11.7,11.4,11.1,11.0,10.8,10.9,10.9,10.6,10.7,10.8,10.8,11.0,11.4,11.1,10.9,10.8,10.7,10.4,10.5,11.1,10.8,10.8,10.5,10.7,10.8,10.9,10.5,10.8,10.1,10.1,10.2,10.3,10.7,11.3,10.8,10.1,9.5,9.0,9.1,9.1,9.8,10.0,9.7,9.1,9.2,9.9,9.9,9.9,9.9,9.9,9.6,9.8,9.9,9.7,8.9,8.8,9.0,9.0,8.9,9.2,9.3,9.7,9.6,9.9,10.1,10.2,10.1,10.0,10.0,10.0,9.9,9.8,9.7,9.6,9.6,9.6,9.5,9.5,9.3,8.9,9.0,9.2,9.3,9.4,9.5,8.7,8.8,8.6,8.8,8.6,9.3,9.5,9.5,9.3,8.7,8.8,9.0,8.4,8.4];
const l10h3=[12.1,11.7,11.3,11.1,11.0,10.9,10.9,10.6,10.6,10.9,10.7,10.9,10.4,10.6,11.1,10.9,10.7,10.9,10.8,10.9,11.1,11.1,11.2,10.6,10.9,10.8,10.9,10.6,10.7,10.5,10.5,10.6,10.7,10.9,11.2,11.0,11.4,8.2,10.9,10.6,10.1,9.8,9.3,7.8,9.8,9.0,8.9,10.9,10.2,10.2,10.1,9.9,10.0,9.6,9.5,9.8,9.2,9.5,9.7,9.4,9.4,9.6,9.4,9.6,9.5,9.2,9.5,10.0,10.2,10.0,10.0,10.0,9.6,9.4,9.5,9.5,9.7,9.6,9.5,9.5,9.8,9.6,9.4,9.4,9.5,9.3,9.2,9.5,9.5,9.4,9.1,9.0,8.5,8.8,8.8,9.0,9.0,8.8,9.0,9.1];
const l10h4=[12.3,11.9,11.8,11.6,11.4,11.2,11.2,11.5,11.8,11.6,11.8,11.4,11.7,11.7,11.4,11.5,11.6,11.3,11.4,11.4,11.4,11.5,11.2,11.4,11.6,12.3,12.3,11.2,11.9,11.6,11.9,12.1,11.4,12.6,12.0,11.6,11.6,11.3,10.6,11.2,11.8,11.8,11.6,11.9,11.6,11.7,11.4,11.5,11.3,11.2,11.3,10.7,11.4,11.5,11.2,10.9,10.4,9.8,10.5,10.8,11.2,11.2,10.6,10.7,11.4,11.2,11.0,11.1,11.1,11.0,10.8,10.8,10.8,11.2,11.2,11.3,11.0,10.9,10.8,10.6,10.9,11.1,11.1,11.2,11.5,11.6,11.7,11.4,11.3,11.4,11.2,11.2,11.4,11.9,11.8,11.5,11.4,11.3,11.8,11.4];

const l11h0=[10.8,10.6,10.5,10.3,10.2,10.0,9.9,9.9,9.8,9.7,9.6,9.7,9.6,9.4,9.5,9.2,9.0,8.8,8.8,8.6,8.5,8.4,8.3,8.1,8.2,8.0,7.9,7.8,7.8,7.7,7.7,7.6,7.5,7.4,7.5,7.3,7.2,7.4,7.1,7.2,7.1,7.2,7.1,7.1,7.2,7.1,7.3,7.7,7.5,7.6,7.6,7.4,7.5,7.5,7.4,7.5,7.4,7.4,7.3,7.3,7.3,7.3,7.2,7.2,7.2,7.3,7.2,7.3,7.4,7.4,7.4,7.4,7.4,7.3,7.3,7.3,7.2,7.3,7.3,7.2,7.2,7.3,7.2,7.2,7.2,7.2,7.4,7.3,7.4,7.2,7.3,7.4,7.6,7.7,7.5,7.5,7.4,7.4,7.6,7.3];
const l11h1=[10.6,10.4,10.1,10.0,10.0,9.9,9.9,9.9,9.8,9.7,9.9,10.5,9.7,8.9,9.2,9.1,9.2,9.0,9.0,9.0,9.8,9.0,10.3,8.8,8.8,8.9,8.9,9.4,9.1,9.9,9.3,9.0,9.2,10.0,9.5,7.4,7.8,8.0,8.3,8.6,7.7,7.7,10.6,9.4,10.6,10.0,10.5,9.7,9.0,10.1,9.8,9.8,10.0,10.0,9.6,9.2,8.9,8.4,7.5,7.5,8.0,8.7,7.8,9.0,9.2,8.5,8.2,7.7,7.4,7.9,8.2,8.8,9.2,8.6,9.5,9.1,9.1,8.7,9.1,9.3,8.9,8.9,9.6,9.8,9.1,8.4,9.0,9.8,8.6,9.5,10.5,9.7,9.9,10.2,10.1,10.6,10.4,10.7,10.5,9.3];
const l11h2=[10.6,10.5,10.0,9.7,9.5,9.3,9.6,9.1,9.3,9.2,9.4,9.2,9.1,8.8,8.8,9.1,9.2,9.0,8.8,9.1,8.7,8.6,8.8,8.7,10.0,9.5,9.1,9.0,8.6,8.3,8.8,8.5,8.8,8.0,8.8,9.2,8.2,8.0,7.5,8.2,8.4,7.8,7.5,7.2,7.1,7.0,7.2,8.0,9.2,10.1,10.2,9.5,9.0,8.7,9.0,11.9,8.7,9.7,9.6,9.7,9.6,9.4,8.8,7.6,7.1,7.2,7.6,8.4,7.5,6.9,7.3,7.0,7.9,7.2,7.8,7.3,6.8,7.6,8.2,8.2,8.2,8.0,8.2,8.3,8.5,8.8,8.6,8.2,8.3,7.9,7.5,7.8,7.4,8.7,9.2,9.0,8.5,8.7,8.9,8.6];
const l11h3=[10.7,10.5,10.1,11.0,10.1,9.8,10.8,9.5,10.3,9.9,10.2,10.0,10.3,10.0,9.6,9.9,9.4,9.3,9.5,9.1,9.2,10.0,8.9,9.6,9.5,9.6,10.2,9.0,9.6,9.3,9.8,9.4,9.5,9.0,10.2,10.7,10.7,10.3,9.4,10.1,10.0,9.9,9.4,11.7,9.5,10.9,10.4,10.3,10.3,9.3,9.2,10.5,9.9,8.9,12.7,8.9,10.2,10.8,10.3,9.7,9.2,8.3,9.6,8.6,9.5,9.0,10.0,9.4,11.2,9.2,9.3,9.3,9.6,9.7,8.9,9.6,9.5,9.5,9.6,10.0,10.2,8.9,9.4,9.8,8.9,9.5,9.5,10.1,10.2,10.1,9.0,10.3,9.7,10.9,9.9,10.4,10.8,10.0,10.3,11.3];
const l11h4=[10.8,10.6,10.4,10.3,10.2,10.2,10.2,10.1,10.2,10.2,10.3,10.3,9.6,9.2,8.7,8.5,8.3,8.1,8.0,8.0,7.9,7.9,7.9,7.8,7.8,7.7,7.6,7.5,7.5,7.6,7.5,7.5,7.4,7.4,7.3,7.0,6.9,7.0,7.0,7.1,6.9,6.9,6.8,6.8,7.0,7.0,7.0,7.0,7.1,7.0,7.0,7.0,7.0,7.1,7.0,7.0,7.1,7.0,6.9,6.9,6.9,6.9,6.9,7.0,6.9,6.9,6.9,7.0,7.0,7.0,7.0,7.0,7.0,7.0,7.0,7.1,7.1,7.1,7.1,7.2,7.1,7.1,7.1,7.1,7.2,7.3,7.2,7.2,7.3,7.3,7.4,7.3,7.4,7.5,7.4,7.4,7.4,7.4,7.4,7.0];

const l12h0=[8.8,8.4,9.4,10.2,9.9,9.9,10.6,9.8,8.9,9.6,9.5,9.3,11.1,10.2,9.0,10.8,10.2,9.5,8.8,8.8,10.5,9.6,9.6,10.0,10.6,10.8,10.4,9.6,9.5,9.8,9.6,9.5,9.4,9.2,9.7,10.0,10.6,10.6,9.9,9.5,10.4,9.7,11.8,10.0,10.6,8.4,8.5,10.0,11.0,10.0,9.5,9.1,9.5,9.9,9.0,9.6,9.4,9.2,9.7,10.4,10.4,8.6,9.8,9.5,9.5,10.3,9.3,9.5,9.5,7.9,10.0,8.5,9.5,9.9,8.2,9.6,10.0,9.5,9.2,9.7,9.9,10.0,9.8,10.2,9.6,10.6,10.8,9.7,10.0,10.5,9.8,9.6,9.4,9.4,9.4,10.0,10.5,10.8,10.5,10.5];
const l12h1=[8.8,8.5,8.4,8.9,8.7,8.6,8.9,8.2,7.5,7.4,7.4,7.5,7.8,7.8,7.5,7.6,8.7,9.2,9.3,8.9,8.5,8.5,8.4,8.5,8.0,9.0,9.3,9.3,9.0,8.9,8.5,8.5,8.3,7.6,7.4,7.5,7.7,8.3,7.1,8.3,8.5,7.9,8.3,8.0,7.3,7.1,6.9,7.7,7.2,7.4,7.4,7.3,7.2,7.1,7.6,7.0,7.5,6.7,7.0,7.6,7.4,6.6,6.4,6.6,6.6,6.7,6.5,6.9,7.4,7.7,7.3,7.2,7.2,7.2,7.0,7.3,7.5,7.4,7.5,7.4,7.1,6.9,7.3,7.0,6.8,7.2,6.8,7.3,6.5,6.5,6.5,6.6,6.6,6.9,6.6,6.5,6.6,6.6,6.6,6.5];
const l12h2=[8.9,8.2,8.4,10.0,9.4,9.2,9.3,8.6,8.0,8.2,8.3,8.4,9.9,9.2,8.6,9.0,8.6,8.4,8.3,8.0,8.3,9.6,9.1,9.2,8.6,9.9,10.0,9.6,9.3,8.6,8.6,8.7,8.5,8.3,8.0,7.6,7.6,8.6,9.3,9.9,10.0,9.2,9.2,9.3,8.6,8.4,7.8,7.8,7.6,8.3,9.0,8.3,7.6,7.7,7.6,7.9,7.8,7.2,8.6,9.1,8.3,7.2,7.3,6.6,6.6,6.8,6.6,7.2,6.7,6.6,8.8,7.6,7.7,9.2,8.7,7.9,8.2,8.6,8.6,8.6,8.5,9.0,8.5,8.6,8.6,8.6,8.6,8.2,7.6,8.0,7.8,8.3,8.0,7.6,7.8,8.4,8.0,7.5,8.4,7.5];
const l12h3=[8.6,8.3,8.2,8.1,7.9,7.9,7.7,7.9,7.6,7.4,7.5,7.5,7.5,7.4,7.5,7.5,7.6,7.9,8.1,8.1,8.0,8.0,7.9,8.9,8.9,8.9,8.8,8.7,8.3,8.1,7.8,7.3,6.5,6.8,7.6,7.9,9.2,8.1,8.8,9.4,8.9,8.9,7.6,7.2,7.3,6.8,7.2,7.1,7.2,6.9,7.2,6.6,7.4,7.0,6.9,6.9,7.2,6.8,6.9,6.7,5.9,5.8,6.0,6.0,5.9,6.0,6.3,6.1,5.9,6.7,7.3,6.8,6.9,6.9,7.0,7.2,7.0,7.2,6.8,7.0,7.0,6.6,6.8,6.5,6.7,6.8,6.8,6.9,7.0,6.9,6.9,6.6,6.4,6.3,6.5,6.8,6.8,6.8,6.9,6.8];
const l12h4=[9.0,8.5,8.3,8.5,8.8,9.0,8.6,7.9,8.5,8.7,8.6,8.5,8.6,8.4,8.3,8.2,7.9,8.2,8.4,8.4,8.3,8.3,8.6,8.6,8.1,8.9,8.8,8.8,8.9,8.9,8.0,7.8,7.7,7.4,7.4,7.6,7.6,8.1,7.7,8.3,8.6,8.4,8.2,8.0,7.5,7.3,7.3,8.7,8.3,8.1,8.0,8.0,7.8,8.0,7.7,8.1,7.8,7.5,7.5,8.2,7.8,7.4,7.0,6.7,6.7,6.7,6.7,6.9,6.6,6.2,6.9,6.8,7.1,7.0,7.0,7.2,7.0,7.4,7.3,7.6,7.3,7.2,7.7,7.9,7.7,7.6,8.1,7.6,7.6,7.2,7.5,7.2,7.2,7.2,7.5,7.5,7.3,7.2,7.2,7.2];

const l13h0=[9.6,9.5,9.2,8.9,8.7,8.6,8.5,8.5,8.2,8.5,8.3,8.4,8.4,8.8,8.6,8.9,8.6,8.9,8.8,9.4,9.6,9.8,10.0,9.8,9.8,9.1,8.9,9.0,9.4,10.0,9.5,9.0,9.0,9.2,9.5,9.5,9.0,8.2,8.8,8.8,8.9,8.6,8.8,8.5,9.1,9.8,8.9,9.2,9.1,9.2,9.0,9.2,8.6,8.5,9.0,9.1,9.1,9.2,9.2,9.0,8.8,9.4,8.8,8.6,8.4,8.7,8.9,8.5,9.4,9.8,9.4,9.2,9.2,9.2,8.8,8.9,8.9,9.2,8.9,9.2,9.2,9.3,9.3,9.0,8.9,8.6,9.5,9.3,9.1,8.6,9.5,9.5,9.2,9.1,9.3,9.6,9.8,9.6,9.5,9.0];
const l13h1=[9.4,9.2,8.8,8.6,8.6,8.6,8.4,8.3,8.2,8.2,8.0,8.0,8.1,8.0,8.0,8.0,8.0,7.9,7.9,8.0,7.9,7.8,7.9,7.9,7.9,7.9,7.9,7.6,7.6,8.9,10.6,10.5,10.5,10.2,9.8,10.5,9.2,8.2,8.4,7.8,8.1,7.9,8.0,8.3,8.1,7.8,7.6,7.7,7.4,7.6,7.5,7.4,7.5,7.0,7.1,7.1,7.3,7.4,7.3,7.3,7.2,7.2,7.1,7.2,7.0,7.2,7.4,7.3,7.6,7.3,7.5,7.4,7.4,7.5,7.4,7.4,7.6,7.6,7.5,7.6,7.6,7.8,7.6,7.9,8.0,7.9,8.3,7.9,7.9,7.6,8.0,7.9,8.0,8.1,8.2,7.9,8.0,8.0,8.0,8.0];
const l13h2=[9.8,9.6,9.2,10.1,9.2,8.9,9.4,8.9,8.4,8.8,9.3,9.9,9.2,8.5,9.0,10.1,10.7,10.8,10.5,11.1,11.5,11.6,11.1,10.5,10.4,10.5,10.7,11.8,11.6,11.5,10.9,10.4,10.4,10.3,10.4,10.6,10.5,9.3,10.3,9.2,9.2,9.0,9.3,9.9,9.5,9.1,8.8,9.3,9.8,8.7,9.8,10.1,10.0,10.0,8.9,9.9,9.8,9.2,8.9,9.5,9.0,8.3,8.0,8.5,9.5,10.0,10.5,9.0,10.0,8.7,9.6,9.0,8.5,8.0,8.0,8.2,9.5,9.5,8.8,9.6,8.9,9.2,9.6,8.6,8.4,8.4,8.5,8.6,8.6,8.4,9.5,10.0,9.0,8.6,9.4,9.5,9.7,9.5,9.2,9.2];
const l13h3=[9.8,9.6,9.2,10.1,9.7,9.5,10.0,8.6,8.7,9.1,9.0,9.5,9.8,9.3,10.3,10.3,10.3,10.2,10.3,10.1,10.5,10.1,10.3,11.5,11.4,11.0,11.0,10.5,10.3,10.2,10.3,10.3,10.2,10.1,10.3,9.3,9.6,10.3,11.6,10.4,10.8,10.2,11.0,10.2,10.6,12.0,10.7,11.0,10.6,10.5,10.1,10.0,10.2,9.8,9.7,10.6,10.3,10.1,10.0,9.4,10.2,10.1,9.9,9.8,10.0,10.3,9.9,9.7,9.7,10.0,9.6,9.7,9.5,9.3,9.0,9.6,10.3,9.7,10.0,10.5,10.0,10.1,10.3,10.1,10.8,10.8,11.1,10.6,10.8,10.3,10.2,10.3,10.0,10.5,10.8,10.6,10.8,10.7,10.8,11.0];
const l13h4=[10.0,9.9,9.3,9.8,9.9,10.1,9.7,8.8,8.3,8.5,8.9,9.4,9.2,8.6,8.6,10.0,10.6,10.3,10.2,10.2,10.2,10.2,10.0,9.6,9.3,10.0,11.0,11.3,11.1,10.6,10.2,10.1,9.8,10.4,9.6,9.6,9.3,9.2,9.7,9.9,10.2,10.3,11.2,10.5,10.1,10.6,10.8,10.8,10.3,9.7,9.6,9.7,9.5,9.8,10.2,10.0,10.2,10.3,10.3,10.1,10.1,10.1,9.6,9.2,10.0,10.7,10.7,10.1,10.5,9.9,9.6,9.5,9.4,9.7,9.4,9.3,9.3,10.4,10.3,10.5,10.5,10.6,10.3,10.4,10.4,10.7,10.8,10.7,10.9,10.8,10.6,10.7,10.9,10.9,10.8,10.8,11.0,11.2,11.3,11.5];

const l14h0=[13,13,13.5,13,13,13.5,13,14,14,12,14,15,23,13,16,16,16,15,16,16,15,16,17,15,14,16,16,19,14,16,20,13,15,16,17,15,14,12,16,16,18,15,28,16,15,16,16,17,14,16,15,12,13,19,13,14,22,15,14,13,13,12,11,12,14,17,13,15,14,16,16,13,12,11,12,14,12,10,15,12,14,12,13,11,14,13,12,11,12,12,10,11,11,10,10,10,10,10,10,10];
const l14h1=[18,13,13,15,15,13,15,19,14,15,15,11,24,14,16,15,15,14,15,15,15,16,14,14,16,13,15,13,15,14,14,16,17,12,19,22,18,21,20,18,18,15,17,17,18,16,16,15,21,14,14,16,14,15,13,14,17,15,16,23,12,13,12,13,15,17,20,13,15,17,14,14,13,12,12,14,14,14,16,12,15,14,13,12,17,15,14,13,13,16,13,13,14,15,14,15,14,14,15,14];
const l14h2=[13,14,22,15,16,15,16,19,16,17,15,12,29,17,25,15,16,17,14,17,16,17,16,17,16,13,23,16,15,18,14,19,23,20,18,17,14,15,18,19,19,17,24,19,17,15,18,13,17,21,13,18,19,16,17,15,17,18,19,19,15,17,14,14,17,17,19,18,14,14,13,12,13,11,12,14,12,10,14,12,16,16,13,15,14,17,13,15,13,16,18,19,15,17,20,17,16,18,19,18];
const l14h3=[13,14,21,16,16,17,17,21,16,17,15,14,26,15,21,16,16,17,15,17,16,16,17,16,16,14,21,17,16,17,14,17,20,19,18,16,15,31,16,15,15,17,19,19,17,16,16,17,24,17,14,16,15,15,14,13,16,16,14,18,13,12,14,13,14,17,19,17,14,14,12,13,17,13,15,14,12,11,14,12,15,17,13,14,24,20,14,13,13,14,16,15,14,17,20,17,14,14,16,20];
const l14h4=[13,14,19,14,13,16,16,20,16,17,15,14,27,16,22,16,17,17,16,17,16,17,16,17,16,14,25,17,16,18,15,17,18,18,17,15,16,29,17,14,16,18,19,19,17,16,16,17,26,17,14,16,16,15,14,20,16,19,14,20,17,15,18,17,18,16,18,17,14,15,12,13,14,13,14,14,12,11,15,13,13,15,13,14,15,14,15,14,13,16,16,15,21,16,17,15,16,14,15,19];

const l15h0=[14.2,14.2,14.2,15.7,15.4,13.6,13.6,14.6,15.5,15.3,14.2,14.3,16.2,15.8,16.3,15.8,15.6,17.4,14.8,16.7,18.0,15.0,14.8,14.9,14.8,15.5,16.2,15.3,14.9,14.3,15.1,16.3,16.5,17.5,18.4,17.3,17.3,15.2,14.8,15.9,14.5,14.4,15.5,15.9,18.4,18.1,15.4,16.9,14.9,12.6,12.8,13.1,14.7,14.4,12.3,12.8,13.0,12.9,12.8,13.0,13.4,13.1,14.8,13.1,12.0,13.0,12.3,16.0,16.5,16.5,12.9,17.1,13.1,11.5,12.0,11.9,12.4,12.5,12.0,12.0,12.8,12.0,12.3,14.2,13.0,16.1,11.9,11.9,11.9,13.1,12.0,12.1,12.0,11.8,12.0,12.0,12.5,12.8,12.0,17.5];
const l15h1=[16.1,15.1,13.6,13.4,13.3,13.6,14.8,13.9,14.6,13.8,14.2,18.3,20.4,14.6,14.2,14.2,16.8,16.5,16.4,14.5,17.3,16.9,16.3,15.7,25.0,25.4,21.7,18.5,17.7,15.8,14.8,17.1,21.5,18.5,16.9,20.6,13.8,14.3,14.9,11.3,14.8,14.7,14.3,12.2,11.7,12.9,12.3,20.8,15.5,14.0,13.8,13.9,11.6,12.8,21.4,16.3,21.6,18.6,16.4,16.5,16.4,14.0,14.5,13.6,15.0,16.0,15.2,16.3,14.7,13.5,13.8,15.0,13.0,12.2,11.6,11.3,13.2,13.6,13.9,14.4,13.0,10.5,11.0,11.5,11.6,11.8,11.8,11.8,11.8,11.5,12.3,12.6,12.5,12.3,12.2,12.4,12.5,12.5,13.0,14.9];
const l15h2=[20.0,18.5,14.5,13.4,13.5,13.0,12.9,16.0,16.5,16.0,14.4,14.6,20.3,17.5,17.0,16.5,17.2,17.0,17.5,16.5,16.0,15.0,14.0,15.5,14.5,16.4,15.0,14.5,13.6,12.9,14.3,15.7,15.0,21.0,18.8,14.5,19.3,19.7,17.4,14.2,15.9,14.5,14.2,13.8,17.5,16.0,19.8,12.9,12.8,13.5,13.6,12.0,11.9,11.6,13.2,11.6,13.0,20.5,17.0,15.5,13.0,12.0,12.3,12.5,12.2,12.8,11.7,12.3,12.0,15.7,11.6,11.6,13.0,11.0,11.2,12.6,12.9,12.0,12.6,12.5,12.5,12.3,13.5,13.0,13.8,11.9,13.9,13.5,12.0,12.7,12.3,12.3,12.5,13.5,14.9,14.0,13.5,12.8,13.5,12.5];
const l15h3=[17.0,16.0,19.0,16.4,15.8,17.0,18.0,23.9,18.5,17.5,18.0,16.5,27.5,21.0,23.8,18.0,18.0,17.0,17.5,16.5,19.0,15.0,15.5,25.5,16.5,14.6,14.7,19.6,16.0,17.5,18.0,19.0,21.2,18.3,22.6,21.0,24.0,28.0,23.0,17.8,17.8,21.0,22.0,18.0,17.5,17.0,17.8,24.0,23.0,16.5,15.0,16.0,16.5,20.5,16.0,19.0,22.0,23.5,25.0,20.5,18.5,15.0,14.8,15.0,17.7,14.0,20.5,20.0,21.0,15.0,19.5,14.5,14.0,14.3,14.0,14.5,14.8,15.0,14.5,14.3,20.0,19.5,16.0,18.0,16.0,16.5,17.0,20.5,18.0,22.0,20.5,23.0,22.0,18.0,18.0,26.0,17.0,17.5,18.0,20.0];
const l15h4=[16.5,15.5,14.0,14.0,13.5,13.8,13.8,16.5,15.2,15.2,15.0,14.8,18.2,16.5,20.0,15.5,15.4,15.4,15.5,17.5,15.0,15.6,15.2,14.6,14.0,14.0,15.4,14.6,14.0,14.0,14.0,16.0,16.5,17.5,23.0,17.5,17.5,21.0,20.0,19.0,18.8,18.0,16.5,17.0,15.5,17.0,16.0,16.5,16.0,15.0,13.3,13.5,14.5,15.5,13.5,14.0,14.5,14.0,17.5,17.0,17.0,15.5,15.0,14.5,14.5,13.0,13.0,16.0,13.0,13.0,13.0,14.0,12.5,11.5,10.8,11.5,12.0,14.0,14.3,13.5,14.0,18.0,17.5,15.5,15.0,15.5,14.5,14.0,14.0,14.0,12.5,12.5,13.0,12.5,13.0,12.5,13.0,12.5,12.8,12.5];

const l16h0=[14.4,13.9,14.7,13.7,13.8,14.2,14.4,15.5,15.0,18.0,14.0,14.0,16.6,15.8,15.4,15.0,15.8,15.5,15.0,15.7,15.8,15.7,15.2,13.6,14.8,17.0,15.0,17.0,16.9,16.5,15.5,14.5,15.5,16.5,15.5,14.0,12.0,18.0,20.0,20.0,19.6,18.0,16.5,14.0,15.5,14.5,14.5,16.3,15.0,15.0,15.2,14.6,13.5,12.5,16.5,17.6,15.8,16.0,16.3,16.0,15.7,14.8,14.8,14.2,15.0,15.8,14.5,14.5,15.6,15.8,13.5,13.5,15.0,13.5,15.0,14.5,14.0,13.2,15.0,15.3,13.8,12.5,18.5,16.0,15.5,14.5,15.0,14.8,14.7,14.7,14.8,15.5,14.8,14.5,15.3,14.7,14.5,14.5,14.8,14.5];
const l16h1=[13.2,13.2,12.5,12.4,12.6,12.8,13.3,12.8,12.7,13.0,12.0,11.8,11.5,11.3,11.3,11.5,11.6,11.8,12.8,12.5,11.3,13.5,14.2,14.0,12.0,13.2,15.5,14.0,14.0,12.0,11.0,12.0,11.6,11.0,11.3,11.0,13.0,13.5,14.0,16.0,16.5,18.5,14.5,12.8,12.0,12.0,11.8,11.8,12.2,12.5,12.5,12.8,12.0,12.5,19.0,13.0,13.5,14.2,13.2,14.2,13.5,11.5,12.0,11.0,12.0,10.8,11.2,11.5,10.5,11.0,10.8,10.7,10.6,10.7,10.9,11.0,10.7,10.4,10.2,10.2,10.5,10.8,10.3,10.6,10.5,11.0,11.2,11.0,10.8,10.6,10.5,10.9,11.0,11.3,11.0,10.5,10.3,10.7,10.5,10.4];
const l16h2=[12.9,12.5,14.4,13.0,12.6,13.8,13.8,15.0,15.0,17.0,13.5,12.0,16.5,15.2,15.2,12.5,11.5,11.5,12.0,13.0,14.2,12.3,14.7,15.3,11.2,10.8,12.5,15.0,14.5,14.5,10.8,12.2,10.7,12.5,15.5,11.5,10.3,10.3,10.8,10.4,10.8,11.0,10.5,13.2,10.5,11.0,12.0,12.8,12.2,11.7,10.6,10.6,11.5,10.7,10.8,10.8,10.5,10.2,10.2,10.5,10.0,10.3,10.8,11.0,10.7,11.5,10.5,11.0,11.5,9.9,10.0,12.8,11.6,10.7,10.5,11.4,11.4,13.2,11.8,10.8,10.6,10.7,11.4,11.2,11.2,11.5,11.6,11.6,11.1,10.3,11.0,10.3,11.2,10.8,10.6,11.3,11.8,12.2,12.4,12.8];
const l16h3=[13.6,12.7,13.3,12.7,12.5,12.8,13.3,12.8,12.2,12.8,11.8,11.7,11.5,11.3,11.5,11.4,11.5,12.1,11.6,12.8,12.8,14.8,14.8,13.3,13.2,13.6,14.5,13.3,13.2,13.3,12.5,12.0,12.4,12.5,14.2,11.8,12.3,12.8,13.2,15.0,16.5,16.8,15.5,11.2,11.2,10.5,11.0,10.2,10.8,11.3,10.2,10.8,10.6,10.6,9.6,10.8,10.7,10.8,11.3,11.8,11.7,11.5,11.5,11.0,12.2,11.2,10.8,11.5,11.3,11.8,11.0,10.6,10.3,9.8,10.5,11.2,10.5,11.0,11.8,10.6,11.2,11.0,12.4,14.0,12.0,12.8,14.0,12.5,11.5,12.0,11.0,10.5,11.5,11.5,12.5,13.5,12.0,11.0,10.8,10.5];
const l16h4=[14.8,13.8,14.7,13.8,14.8,14.5,14.3,15.8,15.0,17.5,14.0,13.8,16.5,16.2,15.3,15.0,15.8,15.7,14.8,15.8,15.9,15.5,15.2,13.3,15.0,16.8,14.7,16.5,16.5,16.8,16.5,15.0,14.5,15.0,16.5,16.8,15.2,14.3,17.5,20.0,20.3,19.0,12.0,14.2,15.5,14.2,14.5,16.3,15.6,15.6,15.4,14.5,13.2,16.0,12.0,17.4,15.9,16.4,16.0,15.8,15.5,14.8,14.8,14.3,15.5,15.3,14.5,14.5,15.6,15.8,13.4,13.2,15.0,13.5,14.8,14.0,13.4,13.2,14.5,15.2,14.2,13.8,18.0,16.3,15.0,14.5,14.8,14.7,14.5,14.8,14.5,15.0,14.7,14.5,15.5,15.0,15.0,14.5,14.5,14.5];

const l17h0=[9.9,10.0,9.7,9.4,9.4,9.4,9.6,8.9,9.6,9.1,8.7,8.7,8.5,8.9,9.3,9.1,10.0,9.2,8.9,9.3,8.8,8.5,8.5,8.6,9.0,9.9,9.8,10.0,10.3,9.2,9.6,9.9,9.6,8.8,8.4,8.5,8.4,9.3,8.8,9.1,9.1,9.3,8.9,9.9,8.9,9.4,8.8,9.2,9.6,9.6,9.5,9.4,9.2,9.5,9.8,9.9,9.9,10.2,9.5,10.5,10.9,10.9,9.1,9.2,9.1,8.7,8.9,8.8,9.1,9.0,8.5,9.0,8.8,10.0,9.6,9.7,9.5,9.0,10.3,10.0,10.0,9.8,9.3,9.4,9.6,9.4,9.9,9.8,9.3,8.8,9.3,9.3,9.3,9.2,9.1,9.4,9.1,9.1,9.3,9.0];
const l17h1=[8.9,8.9,9.0,9.0,8.9,8.9,8.8,8.7,8.6,8.6,8.5,8.5,8.4,8.3,8.2,8.2,8.2,8.1,8.0,7.9,7.9,7.8,7.8,7.7,7.6,7.6,7.6,7.8,7.9,8.2,7.6,7.9,7.8,7.8,7.6,7.4,7.4,7.5,7.4,7.3,7.3,7.3,7.3,7.4,7.3,7.5,7.3,7.3,7.3,7.2,7.3,7.3,7.3,7.3,7.3,7.4,7.3,7.3,7.3,7.3,7.2,7.2,7.2,7.3,7.3,7.3,7.4,7.4,7.4,7.4,7.4,7.4,7.5,7.4,7.5,7.6,7.6,7.5,7.5,7.6,7.5,7.5,7.5,7.5,7.6,7.6,7.6,7.7,7.7,7.7,7.7,7.6,7.6,7.7,7.6,7.6,7.6,7.6,7.6,7.8];
const l17h2=[8.8,8.8,8.7,8.7,8.7,8.7,8.6,8.6,8.5,8.5,8.5,8.4,8.3,8.3,8.2,8.1,8.0,8.0,7.9,7.9,7.9,7.8,7.7,7.6,7.6,7.6,7.6,7.6,7.6,7.6,7.6,7.6,7.6,7.5,7.5,7.4,7.4,7.2,7.2,7.3,7.3,7.2,7.2,7.1,7.2,7.2,7.1,7.2,7.2,7.1,7.1,7.1,7.1,7.1,7.1,7.1,7.1,7.1,7.1,7.1,7.1,7.1,7.1,7.1,7.1,7.1,7.2,7.2,7.2,7.2,7.2,7.2,7.2,7.2,7.2,7.2,7.3,7.3,7.3,7.3,7.3,7.3,7.3,7.3,7.3,7.4,7.4,7.4,7.4,7.3,7.3,7.3,7.3,7.3,7.3,7.3,7.3,7.3,7.3,7.3];
const l17h3=[9.1,9.2,9.1,9.0,9.0,8.9,8.8,8.6,8.6,8.6,8.5,8.4,8.3,8.2,8.1,8.1,8.0,8.0,7.9,7.9,7.8,7.8,7.6,7.6,7.6,7.5,7.5,7.5,7.6,7.6,7.6,7.6,7.6,7.4,7.4,7.5,7.4,7.0,7.2,7.1,7.2,7.3,7.6,7.2,7.3,7.3,7.2,7.2,7.3,7.3,7.2,7.2,7.2,7.1,7.1,7.1,7.1,7.1,7.1,7.1,7.1,7.1,7.1,7.0,7.1,7.1,7.0,7.1,7.1,7.1,7.1,7.1,7.1,7.2,7.1,7.2,7.1,7.1,7.2,7.2,7.2,7.2,7.2,7.2,7.2,7.2,7.3,7.3,7.3,7.2,7.3,7.3,7.2,7.3,7.2,7.2,7.2,7.2,7.2,7.2];
const l17h4=[9.7,9.8,9.5,9.2,9.1,9.1,9.1,8.6,9.1,8.7,8.6,8.6,8.0,8.2,8.2,8.6,8.5,8.2,8.3,8.9,8.5,7.9,8.2,7.7,7.7,8.3,8.9,9.4,8.4,8.0,8.2,8.6,8.0,7.6,7.9,7.4,7.4,8.0,7.5,7.6,7.6,7.7,7.6,7.8,8.0,8.1,8.2,8.6,8.5,8.2,7.9,8.4,7.9,8.5,7.6,7.4,8.2,7.9,7.7,9.2,10.1,10.1,8.6,8.9,8.5,7.8,7.8,8.3,8.5,7.6,7.8,8.0,8.8,8.9,9.1,8.9,8.7,8.8,9.0,8.5,8.5,8.7,8.5,8.6,8.6,8.5,8.7,8.6,9.2,8.2,8.3,8.3,8.0,8.3,8.1,8.4,8.5,8.6,8.4,8.7];

const layerSeries = [
 [l0h0,l0h1,l0h2,l0h3,l0h4],[l1h0,l1h1,l1h2,l1h3,l1h4],[l2h0,l2h1,l2h2,l2h3,l2h4],
 [l3h0,l3h1,l3h2,l3h3,l3h4],[l4h0,l4h1,l4h2,l4h3,l4h4],[l5h0,l5h1,l5h2,l5h3,l5h4],
 [l6h0,l6h1,l6h2,l6h3,l6h4],[l7h0,l7h1,l7h2,l7h3,l7h4],[l8h0,l8h1,l8h2,l8h3,l8h4],
 [l9h0,l9h1,l9h2,l9h3,l9h4],[l10h0,l10h1,l10h2,l10h3,l10h4],[l11h0,l11h1,l11h2,l11h3,l11h4],
 [l12h0,l12h1,l12h2,l12h3,l12h4],[l13h0,l13h1,l13h2,l13h3,l13h4],[l14h0,l14h1,l14h2,l14h3,l14h4],
 [l15h0,l15h1,l15h2,l15h3,l15h4],[l16h0,l16h1,l16h2,l16h3,l16h4],[l17h0,l17h1,l17h2,l17h3,l17h4]
];

const NS = 'http://www.w3.org/2000/svg';
const svg = document.getElementById('chart');
const COLORS = ['#1f77b4','#ff7f0e','#2ca02c','#d62728','#9467bd'];
const AX_L = 75, AX_R = 1085, AX_H = 118, TOP0 = 251.5, PITCH = 180.25;
const X_MIN = -4.95, X_MAX = 103.95;

function mk(tag, parent) { const e = document.createElementNS(NS, tag); parent.appendChild(e); return e; }
function xScale(t) { return AX_L + (t - X_MIN) / (X_MAX - X_MIN) * (AX_R - AX_L); }

layerSeries.forEach(function(series, li) {
  const top = TOP0 + li * PITCH, bot = top + AX_H;
  let mn = Infinity, mx = -Infinity;
  series.forEach(function(s){ s.forEach(function(v){ if (v < mn) mn = v; if (v > mx) mx = v; }); });
  const pad = (mx - mn) * 0.05, yMin = mn - pad, yMax = mx + pad;
  function yScale(v) { return bot - (v - yMin) / (yMax - yMin) * AX_H; }

  const g = mk('g', svg);
  
  

  const title = mk('text', g);
  
  
  title.setAttribute('x', (AX_L + AX_R) / 2); title.setAttribute('y', top - 8);
  title.setAttribute('text-anchor', 'middle'); title.setAttribute('font-size', '16.5');
  title.textContent = 'Layer ' + li;

  series.forEach(function(s, hi) {
    const pts = s.map(function(v, t){ return xScale(t).toFixed(2) + ',' + yScale(v).toFixed(2); }).join(' ');
    const pl = mk('polyline', g);
    
    
    pl.setAttribute('points', pts);
    pl.setAttribute('fill', 'none'); pl.setAttribute('stroke', COLORS[hi]);
    pl.setAttribute('stroke-width', '1.5'); pl.setAttribute('stroke-linejoin', 'round');
  });

  const fr = mk('rect', g);
  
  
  fr.setAttribute('x', AX_L); fr.setAttribute('y', top); fr.setAttribute('width', AX_R - AX_L); fr.setAttribute('height', AX_H);
  fr.setAttribute('fill', 'none'); fr.setAttribute('stroke', '#000'); fr.setAttribute('stroke-width', '1.1');

  yTickValues[li].forEach(function(v, k) {
    const y = yScale(v);
    const tl = mk('line', g);
    
    
    tl.setAttribute('x1', AX_L - 3.5); tl.setAttribute('x2', AX_L); tl.setAttribute('y1', y); tl.setAttribute('y2', y);
    tl.setAttribute('stroke', '#000'); tl.setAttribute('stroke-width', '1');
    const tx = mk('text', g);
    
    
    tx.setAttribute('x', AX_L - 6); tx.setAttribute('y', y + 4.8);
    tx.setAttribute('text-anchor', 'end'); tx.setAttribute('font-size', '13.5');
    tx.textContent = yTickLabels[li][k];
  });

  xTickValues.forEach(function(v, k) {
    const x = xScale(v);
    const tl = mk('line', g);
    
    
    tl.setAttribute('x1', x); tl.setAttribute('x2', x); tl.setAttribute('y1', bot); tl.setAttribute('y2', bot + 3.5);
    tl.setAttribute('stroke', '#000'); tl.setAttribute('stroke-width', '1');
    if (li === layerSeries.length - 1) {
      const tx = mk('text', g);
      
      
      tx.setAttribute('x', x); tx.setAttribute('y', bot + 19);
      tx.setAttribute('text-anchor', 'middle'); tx.setAttribute('font-size', '13.5');
      tx.textContent = xTickLabels[k];
    }
  });

  const xl = mk('text', g);
  
  
  xl.setAttribute('x', (AX_L + AX_R) / 2);
  xl.setAttribute('y', li === layerSeries.length - 1 ? bot + 38 : bot + 22.5);
  xl.setAttribute('text-anchor', 'middle'); xl.setAttribute('font-size', '13.5');
  xl.textContent = 'Timestep';

  const yl = mk('text', g);
  
  
  const cy = top + AX_H / 2;
  const lx = (li === 3) ? 22 : 36;
  yl.setAttribute('x', lx); yl.setAttribute('y', cy);
  yl.setAttribute('transform', 'rotate(-90 ' + lx + ' ' + cy + ')');
  yl.setAttribute('text-anchor', 'middle'); yl.setAttribute('font-size', '13.5');
  yl.textContent = 'Norm';

  const lg = mk('g', g);
  
  
  const lb = mk('rect', lg);
  
  
  lb.setAttribute('x', 978); lb.setAttribute('y', top + 6.5); lb.setAttribute('width', 100); lb.setAttribute('height', 108);
  lb.setAttribute('rx', 3); lb.setAttribute('fill', '#fff'); lb.setAttribute('fill-opacity', '0.8');
  lb.setAttribute('stroke', '#cccccc'); lb.setAttribute('stroke-width', '1');
  headNames.forEach(function(name, hi) {
    const ey = top + 17.6 + hi * 21;
    const ll = mk('line', lg);
    
    
    ll.setAttribute('x1', 983); ll.setAttribute('x2', 1013); ll.setAttribute('y1', ey); ll.setAttribute('y2', ey);
    ll.setAttribute('stroke', COLORS[hi]); ll.setAttribute('stroke-width', '1.5');
    const lt = mk('text', lg);
    
    
    lt.setAttribute('x', 1023); lt.setAttribute('y', ey + 4.8); lt.setAttribute('font-size', '13.5');
    lt.textContent = name;
  });
});
</script>
</body></html>
